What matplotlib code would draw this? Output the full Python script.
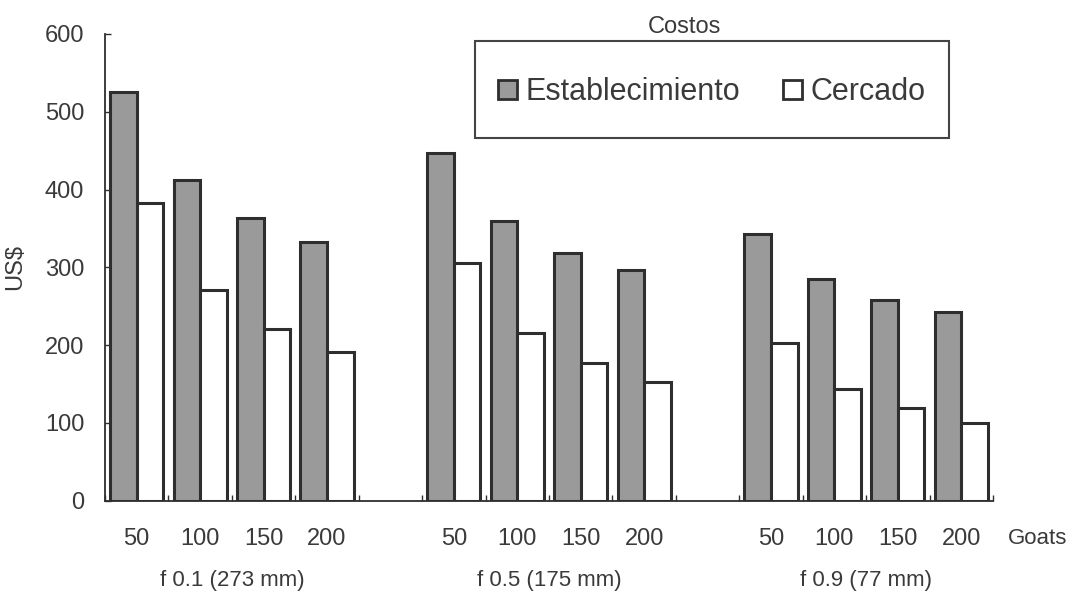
import numpy as np
import matplotlib
matplotlib.use("Agg")
import matplotlib.pyplot as plt
from matplotlib.patches import Rectangle, Patch

plt.rcParams['font.family'] = ['Liberation Sans', 'DejaVu Sans']

# data
goats = ['50', '100', '150', '200']
groups = ['f 0.1 (273 mm)', 'f 0.5 (175 mm)', 'f 0.9 (77 mm)']
establecimiento = [[525, 412, 363, 333],
                   [447, 359, 318, 296],
                   [343, 285, 258, 243]]
cercado = [[383, 271, 221, 191],
           [305, 216, 177, 153],
           [203, 144, 119, 100]]

text_col = '#3a3a3a'
edge_col = '#2e2e2e'
gray_fill = '#9a9a9a'

fig = plt.figure(figsize=(10.77, 5.93), dpi=100)
ax = fig.add_axes([105 / 1077, 92.3 / 593, 888 / 1077, 466.7 / 593])

bw = 0.42
centers = []
for g in range(len(groups)):
    # one empty slot between groups
    x = np.arange(len(goats)) + g * (len(goats) + 1)
    centers.extend(x)
    ax.bar(x - bw / 2, establecimiento[g], width=bw, color=gray_fill,
           edgecolor=edge_col, linewidth=2.2)
    ax.bar(x + bw / 2, cercado[g], width=bw, color='white',
           edgecolor=edge_col, linewidth=2.2)

ax.set_xlim(-0.5, 13.5)
ax.set_ylim(0, 600)
ax.set_yticks(np.arange(0, 601, 100))
ax.tick_params(axis='y', direction='in', length=4, width=1, color=edge_col,
               labelsize=17, labelcolor=text_col, pad=15)

ax.set_xticks(centers)
ax.set_xticklabels(goats * len(groups))
ax.tick_params(axis='x', length=0, labelsize=17, labelcolor=text_col, pad=20)

# small tick marks at the slot boundaries inside each group
bounds = []
for g in range(len(groups)):
    bounds.extend(np.arange(len(goats) + 1) - 0.5 + g * (len(goats) + 1))
ax.set_xticks(bounds, minor=True)
ax.tick_params(axis='x', which='minor', direction='in', length=4, width=1,
               color=edge_col)

for s in ['top', 'right']:
    ax.spines[s].set_visible(False)
for s in ['left', 'bottom']:
    ax.spines[s].set_color(edge_col)
    ax.spines[s].set_linewidth(1.3)

ax.set_ylabel('US$', fontsize=17, color=text_col, labelpad=13)

for g, name in enumerate(groups):
    xc = 1.5 + g * (len(goats) + 1)
    ax.text(xc, -0.171, name, transform=ax.get_xaxis_transform(),
            ha='center', va='center', fontsize=16, color=text_col)
ax.text(1038 / 1077, 1 - 538 / 593, 'Goats', transform=fig.transFigure,
        ha='center', va='center', fontsize=16, color=text_col)

# legend box drawn by hand so it matches the reference size
fig.patches.append(Rectangle((475 / 1077, 1 - 138 / 593), 474 / 1077, 97 / 593,
                             transform=fig.transFigure, fill=False,
                             edgecolor='#444444', linewidth=1.5))
fig.text(684 / 1077, 1 - 27 / 593, 'Costos', ha='center', va='center',
         fontsize=17, color=text_col)
handles = [Patch(facecolor=gray_fill, edgecolor=edge_col, linewidth=2),
           Patch(facecolor='white', edgecolor=edge_col, linewidth=2)]
fig.legend(handles, ['Establecimiento', 'Cercado'], loc='center',
           bbox_to_anchor=(712 / 1077, 1 - 92 / 593), ncol=2, frameon=False,
           fontsize=22, handlelength=0.6, handleheight=0.6,
           handletextpad=0.3, columnspacing=1.4, labelcolor=text_col)

fig.savefig('out.png', dpi=100)
